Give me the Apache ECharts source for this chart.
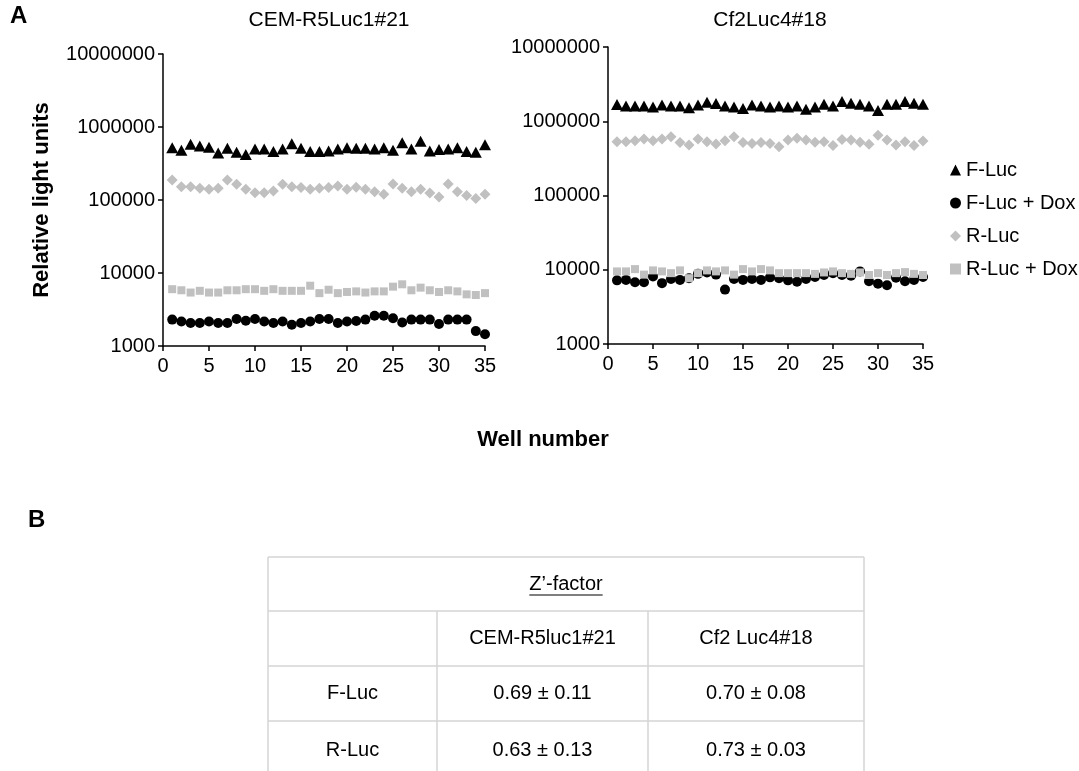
<!DOCTYPE html>
<html>
<head>
<meta charset="utf-8">
<script src="https://cdn.jsdelivr.net/npm/echarts@6/dist/echarts.min.js"></script>
<style>
  html, body { margin: 0; padding: 0; background: #fff; }
  #chart { width: 1079px; height: 771px; }
</style>
</head>
<body>
<div id="chart"></div>
<script>
// well numbers on the x axis
const wells = [1, 2, 3, 4, 5, 6, 7, 8, 9, 10, 11, 12, 13, 14, 15, 16, 17, 18, 19, 20,
  21, 22, 23, 24, 25, 26, 27, 28, 29, 30, 31, 32, 33, 34, 35];

// CEM-R5Luc1#21 (relative light units)
const cemFLuc = [520000, 480000, 580000, 550000, 530000, 440000, 510000, 450000, 420000, 500000,
  500000, 460000, 500000, 590000, 510000, 460000, 460000, 470000, 500000, 520000,
  510000, 510000, 500000, 520000, 480000, 610000, 500000, 640000, 470000, 490000,
  500000, 520000, 460000, 450000, 570000];
const cemFLucDox = [2300, 2170, 2070, 2070, 2170, 2070, 2070, 2350, 2220, 2350,
  2170, 2070, 2170, 1960, 2070, 2170, 2350, 2350, 2070, 2170,
  2200, 2300, 2600, 2600, 2400, 2100, 2300, 2300, 2300, 2000,
  2300, 2300, 2300, 1600, 1450];
const cemRLuc = [188000, 152000, 152000, 145000, 140000, 145000, 188000, 164000, 140000, 126000,
  126000, 133000, 164000, 152000, 148000, 140000, 145000, 148000, 156000, 140000,
  150000, 140000, 130000, 120000, 165000, 145000, 130000, 140000, 125000, 110000,
  165000, 130000, 115000, 105000, 120000];
const cemRLucDox = [6000, 5800, 5400, 5700, 5400, 5400, 5800, 5800, 6000, 6000,
  5700, 6000, 5700, 5700, 5700, 6700, 5300, 5900, 5300, 5500,
  5600, 5400, 5600, 5600, 6500, 7000, 5800, 6300, 5800, 5500,
  5800, 5600, 5100, 5000, 5300];

// Cf2Luc4#18 (relative light units)
const cf2FLuc = [1680000, 1600000, 1600000, 1600000, 1550000, 1660000, 1600000, 1600000, 1520000, 1660000,
  1800000, 1740000, 1600000, 1550000, 1480000, 1660000, 1600000, 1550000, 1600000, 1550000,
  1600000, 1450000, 1550000, 1700000, 1600000, 1850000, 1750000, 1700000, 1600000, 1400000,
  1700000, 1700000, 1850000, 1750000, 1700000];
const cf2FLucDox = [7200, 7300, 6800, 6800, 8100, 6600, 7500, 7300, 7700, 8800,
  9200, 8600, 5400, 7500, 7300, 7500, 7300, 7900, 7700, 7200,
  6900, 7500, 8000, 8500, 9000, 8500, 8300, 9500, 7000, 6500,
  6200, 7800, 7000, 7300, 8000];
const cf2RLuc = [530000, 530000, 546000, 575000, 546000, 575000, 618000, 519000, 479000, 575000,
  530000, 493000, 546000, 618000, 519000, 502000, 519000, 502000, 454000, 558000,
  590000, 560000, 520000, 530000, 470000, 570000, 560000, 520000, 490000, 650000,
  560000, 480000, 530000, 470000, 540000];
const cf2RLucDox = [9500, 9500, 10200, 8600, 9800, 9500, 9000, 9800, 7700, 9000,
  9800, 9500, 9800, 8600, 10200, 9500, 10200, 9800, 9000, 9000,
  9000, 9000, 8800, 9200, 9500, 9000, 8800, 9200, 8500, 9000,
  8500, 9000, 9300, 8800, 8500];

// Z'-factor table
const tableTitle = 'Z’-factor';
const tableCols = ['', 'CEM-R5luc1#21', 'Cf2 Luc4#18'];
const tableRows = [
  ['F-Luc', '0.69 ± 0.11', '0.70 ± 0.08'],
  ['R-Luc', '0.63 ± 0.13', '0.73 ± 0.03']
];

const font = 'Liberation Sans, Arial, sans-serif';
const gray = '#c0c0c0';

const seriesDefs = [
  { name: 'F-Luc', symbol: 'triangle', size: [12, 11], color: '#000', data: [cemFLuc, cf2FLuc] },
  { name: 'F-Luc + Dox', symbol: 'circle', size: 10, color: '#000', data: [cemFLucDox, cf2FLucDox] },
  { name: 'R-Luc', symbol: 'diamond', size: [11, 11], color: gray, data: [cemRLuc, cf2RLuc] },
  { name: 'R-Luc + Dox', symbol: 'rect', size: 8, color: gray, data: [cemRLucDox, cf2RLucDox] }
];

function pairs(vals) {
  return wells.map((w, i) => [w, vals[i]]);
}

const axisLine = { show: true, lineStyle: { color: '#000', width: 1.5 } };
const axisTick = { show: true, length: 5, lineStyle: { color: '#000', width: 1.5 } };

function xAxisOf(idx) {
  return {
    type: 'value', gridIndex: idx, min: 0, max: 35, interval: 5,
    axisLine: axisLine, axisTick: axisTick, splitLine: { show: false },
    axisLabel: { color: '#000', fontSize: 20, fontFamily: font, margin: 10 }
  };
}
function yAxisOf(idx) {
  return {
    type: 'log', logBase: 10, gridIndex: idx, min: 1000, max: 10000000,
    axisLine: axisLine, axisTick: axisTick, splitLine: { show: false },
    minorTick: { show: false },
    axisLabel: {
      color: '#000', fontSize: 20, fontFamily: font, margin: 8,
      formatter: v => String(Math.round(v))
    }
  };
}

const series = [];
seriesDefs.forEach(d => {
  [0, 1].forEach(g => {
    series.push({
      name: d.name, type: 'scatter', xAxisIndex: g, yAxisIndex: g,
      symbol: d.symbol, symbolSize: d.size,
      itemStyle: { color: d.color, opacity: 1 },
      data: pairs(d.data[g])
    });
  });
});

// table drawn with graphic elements
const tb = { left: 268, right: 864, top: 557, colX: [268, 437, 648, 864], rowY: [557, 611, 666, 721, 780] };
const lineColor = '#d4d4d4';
const tableGraphics = [];
tb.rowY.slice(0, 4).forEach(y => {
  tableGraphics.push({ type: 'line', shape: { x1: tb.left, y1: y, x2: tb.right, y2: y }, style: { stroke: lineColor, lineWidth: 1.5 } });
});
tableGraphics.push({ type: 'line', shape: { x1: tb.left, y1: tb.top, x2: tb.left, y2: 771 }, style: { stroke: lineColor, lineWidth: 1.5 } });
tableGraphics.push({ type: 'line', shape: { x1: tb.right, y1: tb.top, x2: tb.right, y2: 771 }, style: { stroke: lineColor, lineWidth: 1.5 } });
[1, 2].forEach(c => {
  tableGraphics.push({ type: 'line', shape: { x1: tb.colX[c], y1: tb.rowY[1], x2: tb.colX[c], y2: 771 }, style: { stroke: lineColor, lineWidth: 1.5 } });
});
const cx = (tb.left + tb.right) / 2;
const cy0 = (tb.rowY[0] + tb.rowY[1]) / 2;
tableGraphics.push({ type: 'text', x: cx, y: cy0, style: { text: tableTitle, font: '20px ' + font, fill: '#000', align: 'center', verticalAlign: 'middle' } });
// underline for the title
const ctx = document.createElement('canvas').getContext('2d');
ctx.font = '20px ' + font;
const tw = ctx.measureText(tableTitle).width;
tableGraphics.push({ type: 'line', shape: { x1: cx - tw / 2, y1: cy0 + 11, x2: cx + tw / 2, y2: cy0 + 11 }, style: { stroke: '#000', lineWidth: 1.2 } });
const allRows = [tableCols].concat(tableRows);
allRows.forEach((row, r) => {
  row.forEach((txt, c) => {
    if (!txt) return;
    tableGraphics.push({
      type: 'text',
      x: (tb.colX[c] + tb.colX[c + 1]) / 2,
      y: (tb.rowY[r + 1] + tb.rowY[r + 2]) / 2,
      style: { text: txt, font: '20px ' + font, fill: '#000', align: 'center', verticalAlign: 'middle' }
    });
  });
});

const chart = echarts.init(document.getElementById('chart'));
chart.setOption({
  animation: false,
  backgroundColor: '#fff',
  title: [
    { text: 'CEM-R5Luc1#21', left: 324, top: 5, textAlign: 'center', textStyle: { fontSize: 21, fontWeight: 'normal', fontFamily: font, color: '#000' } },
    { text: 'Cf2Luc4#18', left: 765, top: 5, textAlign: 'center', textStyle: { fontSize: 21, fontWeight: 'normal', fontFamily: font, color: '#000' } }
  ],
  grid: [
    { left: 163, top: 54, width: 322, height: 292 },
    { left: 608, top: 47, width: 315, height: 297 }
  ],
  xAxis: [xAxisOf(0), xAxisOf(1)],
  yAxis: [yAxisOf(0), yAxisOf(1)],
  legend: {
    orient: 'vertical', left: 945, top: 155, itemGap: 13,
    itemWidth: 11, itemHeight: 11,
    textStyle: { fontSize: 20, fontFamily: font, color: '#000' },
    data: seriesDefs.map(d => ({ name: d.name, icon: d.symbol, itemStyle: { color: d.color } }))
  },
  graphic: [
    { type: 'text', x: 10, y: 4, style: { text: 'A', font: 'bold 24px ' + font, fill: '#000' } },
    { type: 'text', x: 28, y: 508, style: { text: 'B', font: 'bold 24px ' + font, fill: '#000' } },
    { type: 'text', x: 42, y: 200, rotation: Math.PI / 2, style: { text: 'Relative light units', font: 'bold 22px ' + font, fill: '#000', align: 'center', verticalAlign: 'middle' } },
    { type: 'text', x: 543, y: 440, style: { text: 'Well number', font: 'bold 22px ' + font, fill: '#000', align: 'center', verticalAlign: 'middle' } }
  ].concat(tableGraphics),
  series: series
});
</script>
</body>
</html>
